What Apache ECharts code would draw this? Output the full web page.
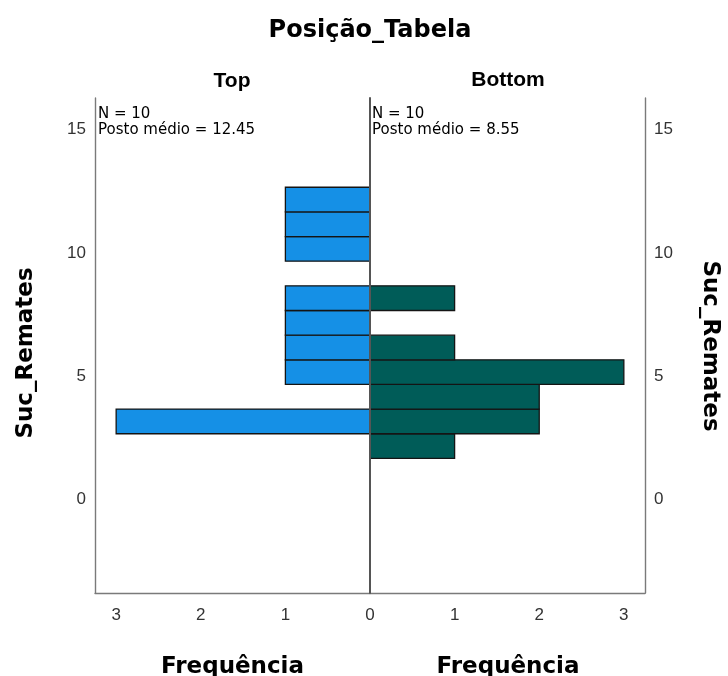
<!DOCTYPE html>
<html>
<head>
<meta charset="utf-8">
<script src="https://cdn.jsdelivr.net/npm/echarts@6/dist/echarts.min.js"></script>
<style>html,body{margin:0;padding:0;background:#fff}#c{width:728px;height:676px}</style>
</head>
<body>
<div id="c"></div>
<script>
// ---- data ----
const chartTitle = 'Posição_Tabela';
const groups = ['Top', 'Bottom'];
const binValues   = [2, 3, 4, 5, 6, 7, 8, 9, 10, 11, 12];
const topFreq     = [0, 3, 0, 1, 1, 1, 1, 0, 1, 1, 1];
const bottomFreq  = [1, 2, 2, 3, 1, 0, 1, 0, 0, 0, 0];
const nValues = [10, 10];
const meanRanks = ['12.45', '8.55'];
const yTicks = [0, 5, 10, 15];
const xTicksLeft = [1, 2, 3];
const xTicksRight = [0, 1, 2, 3];
const yName = 'Suc_Remates';
const xName = 'Frequência';

const chart = echarts.init(document.getElementById('c'), null, {renderer: 'canvas'});

const gL = {left: 95, top: 98, width: 275, height: 495};
const gR = {left: 370, top: 98, width: 275, height: 495};
const yMin = -3.96, yMax = 16.12, xMax = 3.25;

function toData(freqs) {
  const out = [];
  binValues.forEach((v, i) => { if (freqs[i] > 0) out.push([freqs[i], v]); });
  return out;
}
function makeRender(color) {
  return function (params, api) {
    const f = api.value(0), v = api.value(1);
    const p0 = api.coord([0, v + 0.5]);
    const p1 = api.coord([f, v - 0.5]);
    const x = Math.min(p0[0], p1[0]);
    const w = Math.abs(p1[0] - p0[0]);
    return {
      type: 'rect',
      shape: {x: x, y: p0[1], width: w, height: p1[1] - p0[1]},
      style: {fill: color, stroke: '#141414', lineWidth: 1.3}
    };
  };
}

const labelFont = {fontFamily: 'Liberation Sans', fontSize: 17, color: '#333'};
const frameLine = {show: true, onZero: false, lineStyle: {color: '#7a7a7a', width: 1.4}};

function xAxisCfg(grid, inverse, ticks) {
  return {
    type: 'value', gridIndex: grid, min: 0, max: xMax, inverse: inverse,
    axisLine: frameLine, axisTick: {show: false}, splitLine: {show: false},
    axisLabel: Object.assign({customValues: ticks, margin: 14}, labelFont)
  };
}
function yAxisCfg(grid, pos, showLabels, line) {
  return {
    type: 'value', gridIndex: grid, min: yMin, max: yMax, position: pos,
    axisLine: line, axisTick: {show: false}, splitLine: {show: false},
    axisLabel: Object.assign({show: showLabels, customValues: yTicks, margin: 9,
      verticalAlign: 'top', lineHeight: 8}, labelFont)
  };
}

function annot(x, i) {
  return {
    type: 'text', x: x, y: 106.5, z: 100,
    style: {
      text: 'N = ' + nValues[i] + '\nPosto médio = ' + meanRanks[i],
      fontFamily: 'DejaVu Sans', fontSize: 15, lineHeight: 16,
      fill: '#000', align: 'left', verticalAlign: 'top'
    }
  };
}
function bigText(txt, x, y, rot, size, family, weight) {
  return {
    type: 'text', x: x, y: y, rotation: rot || 0, z: 100,
    style: {
      text: txt, fontFamily: family || 'DejaVu Sans', fontSize: size, fontWeight: weight || 'bold',
      fill: '#000', align: 'center', verticalAlign: 'middle'
    }
  };
}

chart.setOption({
  animation: false,
  backgroundColor: '#fff',
  grid: [gL, gR],
  xAxis: [xAxisCfg(0, true, xTicksLeft), xAxisCfg(1, false, xTicksRight)],
  yAxis: [
    yAxisCfg(0, 'left', true, frameLine),
    yAxisCfg(1, 'right', true, frameLine),
    Object.assign(yAxisCfg(1, 'left', false, {show: true, onZero: false, lineStyle: {color: '#555', width: 2}}), {z: 10})
  ],
  series: [
    {type: 'custom', xAxisIndex: 0, yAxisIndex: 0, data: toData(topFreq), renderItem: makeRender('#1590e6')},
    {type: 'custom', xAxisIndex: 1, yAxisIndex: 1, data: toData(bottomFreq), renderItem: makeRender('#005c58')}
  ],
  graphic: [
    bigText(chartTitle, 370, 30.5, 0, 24),
    bigText(groups[0], 232, 81, 0, 21, 'Liberation Sans'),
    bigText(groups[1], 508, 80, 0, 21, 'Liberation Sans'),
    annot(98, 0),
    annot(372, 1),
    bigText(yName, 26, 353, Math.PI / 2, 23),
    bigText(yName, 710, 346, -Math.PI / 2, 23),
    bigText(xName, 232.5, 667.5, 0, 23),
    bigText(xName, 508, 667.5, 0, 23)
  ]
});
</script>
</body>
</html>
